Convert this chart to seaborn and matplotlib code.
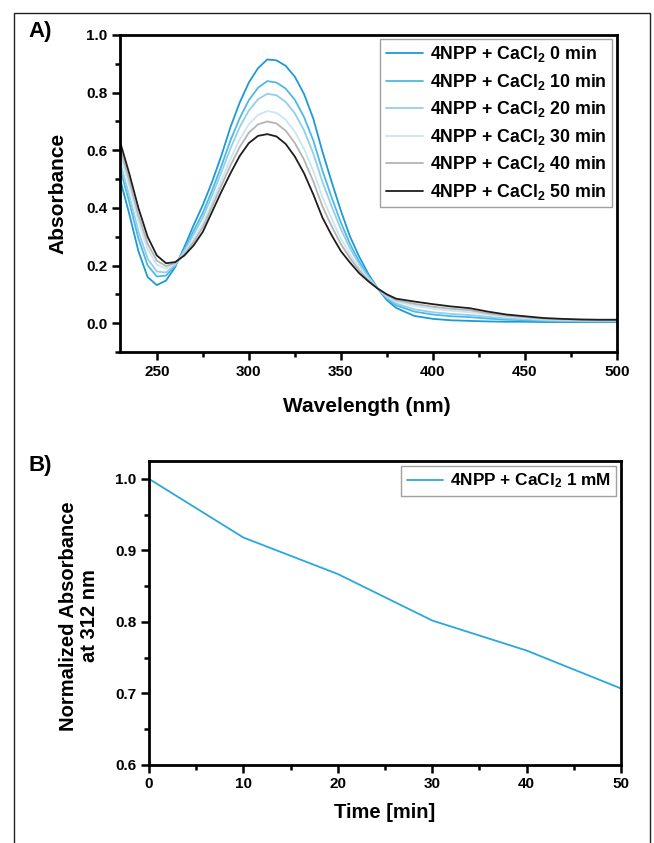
import numpy as np
import pandas as pd
import matplotlib
matplotlib.use("Agg")
import matplotlib.pyplot as plt
from matplotlib.ticker import MultipleLocator
from matplotlib.patches import Rectangle
import seaborn as sns

# ---------------- data ----------------
wavelength = [230, 235, 240, 245, 250, 255, 260, 265, 270, 275, 280, 285, 290, 295,
              300, 305, 310, 315, 320, 325, 330, 335, 340, 345, 350, 355, 360, 365,
              370, 375, 380, 390, 400, 410, 420, 430, 440, 450, 460, 470, 480, 490, 500]

abs_0min = [0.50, 0.38, 0.25, 0.16, 0.132, 0.148, 0.195, 0.265, 0.34, 0.41, 0.49, 0.58, 0.68, 0.765,
            0.835, 0.885, 0.915, 0.912, 0.893, 0.855, 0.795, 0.71, 0.595, 0.49, 0.39, 0.30, 0.23, 0.17,
            0.12, 0.08, 0.053, 0.025, 0.015, 0.010, 0.008, 0.006, 0.005, 0.005, 0.004, 0.004, 0.004, 0.004, 0.004]
abs_10min = [0.538, 0.421, 0.294, 0.201, 0.162, 0.165, 0.200, 0.256, 0.320, 0.383, 0.460, 0.544, 0.634, 0.711,
             0.774, 0.817, 0.840, 0.835, 0.814, 0.775, 0.715, 0.634, 0.529, 0.436, 0.349, 0.274, 0.213, 0.163,
             0.12, 0.086, 0.062, 0.040, 0.030, 0.024, 0.021, 0.016, 0.012, 0.010, 0.008, 0.007, 0.0066, 0.0063, 0.0063]
abs_20min = [0.560, 0.444, 0.319, 0.224, 0.179, 0.176, 0.203, 0.251, 0.308, 0.367, 0.442, 0.523, 0.606, 0.680,
             0.738, 0.777, 0.796, 0.791, 0.768, 0.728, 0.669, 0.589, 0.490, 0.405, 0.326, 0.259, 0.204, 0.159,
             0.12, 0.089, 0.068, 0.048, 0.038, 0.032, 0.028, 0.022, 0.0165, 0.014, 0.0104, 0.009, 0.008, 0.0077, 0.0077]
abs_30min = [0.590, 0.477, 0.354, 0.257, 0.203, 0.189, 0.207, 0.244, 0.292, 0.346, 0.418, 0.494, 0.570, 0.637,
             0.690, 0.723, 0.736, 0.730, 0.706, 0.664, 0.605, 0.529, 0.437, 0.362, 0.293, 0.238, 0.191, 0.153,
             0.12, 0.094, 0.075, 0.060, 0.050, 0.043, 0.038, 0.029, 0.022, 0.018, 0.0137, 0.0116, 0.0102, 0.0095, 0.0095]
abs_40min = [0.608, 0.496, 0.375, 0.276, 0.217, 0.198, 0.209, 0.240, 0.282, 0.333, 0.404, 0.476, 0.547, 0.611,
             0.661, 0.690, 0.700, 0.693, 0.668, 0.625, 0.567, 0.492, 0.405, 0.336, 0.274, 0.225, 0.183, 0.149,
             0.12, 0.097, 0.080, 0.067, 0.057, 0.050, 0.045, 0.034, 0.026, 0.021, 0.0156, 0.013, 0.0115, 0.0106, 0.0106]
abs_50min = [0.63, 0.52, 0.40, 0.30, 0.235, 0.208, 0.212, 0.235, 0.27, 0.317, 0.386, 0.455, 0.52, 0.58,
             0.625, 0.65, 0.656, 0.648, 0.622, 0.578, 0.52, 0.447, 0.366, 0.305, 0.25, 0.21, 0.173, 0.145,
             0.12, 0.10, 0.085, 0.075, 0.066, 0.058, 0.052, 0.04, 0.03, 0.024, 0.018, 0.015, 0.013, 0.012, 0.012]

series_labels = ["4NPP + CaCl$_2$ 0 min", "4NPP + CaCl$_2$ 10 min", "4NPP + CaCl$_2$ 20 min",
                 "4NPP + CaCl$_2$ 30 min", "4NPP + CaCl$_2$ 40 min", "4NPP + CaCl$_2$ 50 min"]
series_colors = ["#1c9ad6", "#4db8e4", "#93cfea", "#c9e6f1", "#b4b4b4", "#1e1e1e"]

time_min = [0, 10, 20, 30, 40, 50]
norm_abs = [1.0, 0.918, 0.867, 0.802, 0.760, 0.707]
b_label = "4NPP + CaCl$_2$ 1 mM"
b_color = "#2aa7dc"

# ---------------- style ----------------
sns.set_style("ticks")
plt.rcParams["font.family"] = ["Liberation Sans", "DejaVu Sans"]
plt.rcParams["font.weight"] = "bold"
plt.rcParams["text.color"] = "black"
plt.rcParams["axes.labelcolor"] = "black"
plt.rcParams["xtick.color"] = "black"
plt.rcParams["ytick.color"] = "black"
plt.rcParams["mathtext.fontset"] = "custom"
plt.rcParams["mathtext.rm"] = "Liberation Sans:bold"
plt.rcParams["mathtext.bf"] = "Liberation Sans:bold"
plt.rcParams["mathtext.default"] = "bf"

fig = plt.figure(figsize=(6.54, 8.43), dpi=100)
W, H = 654, 843

def fig_axes(l, t, r, b):
    return fig.add_axes([l / W, 1 - b / H, (r - l) / W, (b - t) / H])

axA = fig_axes(120, 35, 617, 352)
axB = fig_axes(149, 461, 621, 765)

# outer frame
fig.patches.append(Rectangle((14 / W, -0.01), (650 - 14) / W, 1.01 - 13 / H,
                             transform=fig.transFigure, fill=False, edgecolor="#222222",
                             linewidth=1.0))

# ---------------- panel A ----------------
rows = []
for lab, vals in zip(series_labels, [abs_0min, abs_10min, abs_20min, abs_30min, abs_40min, abs_50min]):
    for w, v in zip(wavelength, vals):
        rows.append({"Wavelength": w, "Absorbance": v, "Series": lab})
dfA = pd.DataFrame(rows)
sns.lineplot(data=dfA, x="Wavelength", y="Absorbance", hue="Series", hue_order=series_labels,
             palette=series_colors, linewidth=1.3, ax=axA, legend=False)
for lab, col in zip(series_labels, series_colors):
    axA.plot([], [], color=col, linewidth=1.3, label=lab)

axA.set_xlim(230, 500)
axA.set_ylim(-0.1, 1.0)
axA.xaxis.set_major_locator(MultipleLocator(50))
axA.xaxis.set_minor_locator(MultipleLocator(25))
axA.set_yticks([0.0, 0.2, 0.4, 0.6, 0.8, 1.0])
axA.yaxis.set_minor_locator(MultipleLocator(0.1))
axA.set_xlabel("Wavelength (nm)", fontsize=15, fontweight="bold")
axA.set_ylabel("Absorbance", fontsize=15, fontweight="bold")
axA.xaxis.set_label_coords(0.497, -0.142)
axA.yaxis.set_label_coords(-0.105, 0.5)
legA = axA.legend(loc="upper right", prop={"size": 12.8, "weight": "bold"}, frameon=True,
                  fancybox=False, handlelength=2.1, handletextpad=0.4, borderpad=0.3,
                  labelspacing=0.42, bbox_to_anchor=(0.990, 0.987), borderaxespad=0.0)
legA.get_frame().set_edgecolor("#888888")
legA.get_frame().set_linewidth(1.0)

# ---------------- panel B ----------------
dfB = pd.DataFrame({"Time": time_min, "Norm": norm_abs})
sns.lineplot(data=dfB, x="Time", y="Norm", color=b_color, linewidth=1.3, ax=axB, label=b_label)
axB.set_xlim(0, 50)
axB.set_ylim(0.6, 1.025)
axB.xaxis.set_major_locator(MultipleLocator(10))
axB.xaxis.set_minor_locator(MultipleLocator(5))
axB.set_yticks([0.6, 0.7, 0.8, 0.9, 1.0])
axB.yaxis.set_minor_locator(MultipleLocator(0.05))
axB.set_xlabel("Time [min]", fontsize=14.5, fontweight="bold")
axB.set_ylabel("Normalized Absorbance\nat 312 nm", fontsize=14.5, fontweight="bold", linespacing=1.15)
axB.xaxis.set_label_coords(0.5, -0.125)
axB.yaxis.set_label_coords(-0.106, 0.49)
legB = axB.legend(loc="upper right", prop={"size": 12.4, "weight": "bold"}, frameon=True,
                  fancybox=False, handlelength=2.1, handletextpad=0.4, borderpad=0.3,
                  bbox_to_anchor=(0.989, 0.982), borderaxespad=0.0)
legB.get_frame().set_edgecolor("#888888")
legB.get_frame().set_linewidth(1.0)

# ---------------- common axis styling ----------------
for ax in (axA, axB):
    for sp in ax.spines.values():
        sp.set_visible(True)
        sp.set_linewidth(2.0)
        sp.set_color("black")
    ax.tick_params(axis="both", which="major", direction="out", length=6, width=1.8,
                   labelsize=11, pad=3, top=False, right=False, colors="black")
    ax.tick_params(axis="both", which="minor", direction="out", length=3.5, width=1.8,
                   top=False, right=False)
    for lbl in ax.get_xticklabels() + ax.get_yticklabels():
        lbl.set_fontweight("bold")

fig.text(28 / W, 1 - 31 / H, "A)", fontsize=16, fontweight="bold", va="center", ha="left")
fig.text(28 / W, 1 - 465 / H, "B)", fontsize=16, fontweight="bold", va="center", ha="left")

fig.savefig("out.png", dpi=100, facecolor="white")
